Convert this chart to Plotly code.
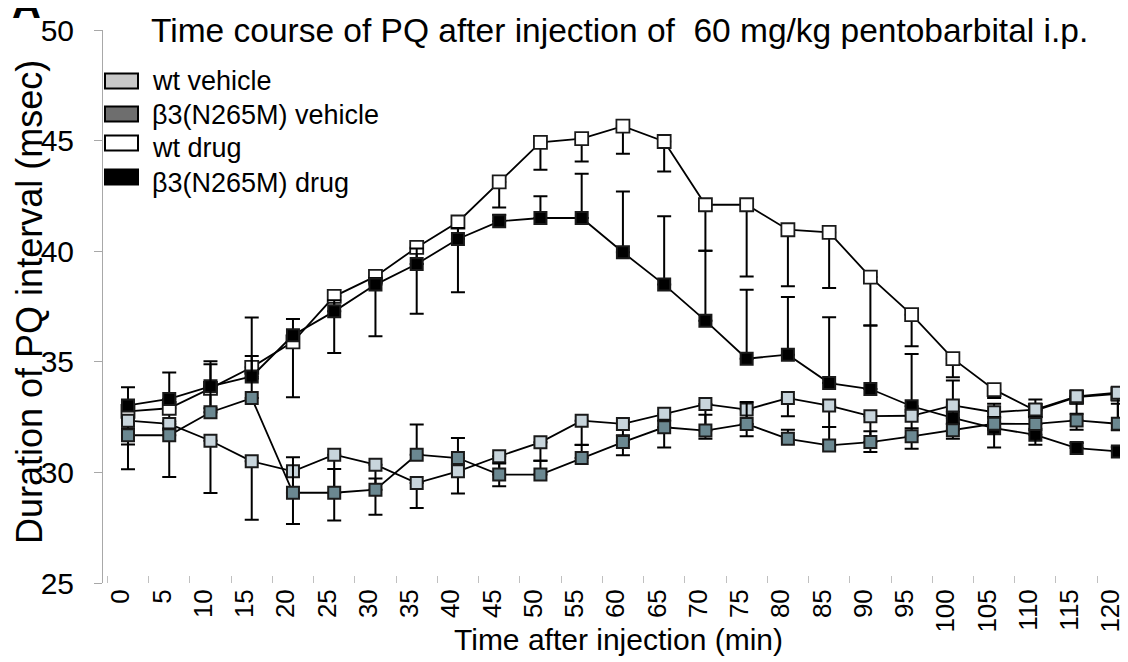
import plotly.graph_objects as go

time = list(range(0, 125, 5))
tick_text = [str(t) for t in time]

series_names = ["wt vehicle", "β3(N265M) vehicle", "wt drug", "β3(N265M) drug"]

wt_vehicle = [32.34, 32.19, 31.43, 30.5, 30.05, 30.8, 30.35, 29.52, 30.05, 30.73, 31.36, 32.34, 32.19,
              32.65, 33.09, 32.84, 33.36, 33.02, 32.54, 32.56, 33.03, 32.72, 32.84, 33.44, 33.6]
wt_vehicle_err = [2.2, 2.4, 2.36, 2.64, 2.38, 2.98, 2.26, 1.13, 1.0, 1.36, 0.83, 1.1, 1.42,
                  1.52, 1.57, 1.21, 0.82, 0.97, 1.62, 1.49, 1.51, 1.59, 1.59, 1.51, 1.7]

mut_vehicle = [31.68, 31.68, 32.72, 33.36, 29.08, 29.08, 29.22, 30.8, 30.65, 29.9, 29.9, 30.65, 31.37,
               32.04, 31.89, 32.19, 31.52, 31.22, 31.37, 31.63, 31.9, 32.2, 32.19, 32.35, 32.2]
mut_vehicle_err = [0.3, 0.3, 2.3, 1.9, 1.6, 1.07, 0.5, 1.36, 0.9, 0.5, 0.63, 0.6, 0.31,
                   0.3, 0.72, 0.99, 0.41, 0.83, 0.49, 0.37, 0.3, 0.3, 0.3, 0.3, 0.9]

wt_drug = [32.76, 32.9, 33.8, 34.75, 35.9, 37.96, 38.86, 40.17, 41.32, 43.13, 44.92, 45.09, 45.65,
           44.96, 42.1, 42.1, 40.97, 40.85, 38.83, 37.13, 35.14, 33.74, 32.8, 33.4, 33.55]
wt_drug_err = [1.5, 0.6, 0.9, 0.5, 2.5, 2.56, 2.7, 3.0, 3.18, 1.15, 1.24, 1.03, 1.25,
               1.36, 2.08, 3.24, 2.56, 2.51, 2.19, 1.43, 0.84, 0.38, 0.3, 0.3, 0.3]

mut_drug = [33.03, 33.32, 33.89, 34.34, 36.2, 37.28, 38.49, 39.42, 40.55, 41.35, 41.5, 41.5, 39.95,
            38.49, 36.86, 35.14, 35.32, 34.04, 33.77, 32.99, 32.46, 32.0, 31.7, 31.1, 30.95]
mut_drug_err = [0.82, 1.2, 1.0, 2.66, 0.73, 0.5, 0.3, 0.7, 0.5, 0.3, 0.98, 2.0, 2.75,
                3.09, 3.16, 3.12, 2.61, 2.97, 2.87, 2.36, 1.7, 1.1, 1.6, 0.23, 0.2]

FONT = "Liberation Sans, Arial, sans-serif"
W, H = 1128, 662
PL, PR, PT, PB = 95, 1128, 22, 575


def px(x):
    return (x - PL) / (PR - PL)


def py(y):
    return (PB - y) / (PB - PT)


def make_trace(y, err, plus, fill, size=12, lw=2):
    zeros = [0] * len(err)
    return go.Scatter(
        x=time, y=y, mode="lines+markers",
        line=dict(color="black", width=1.8),
        marker=dict(symbol="square", size=size, color=fill, line=dict(color="#1a1a1a", width=lw)),
        error_y=dict(type="data", symmetric=False,
                     array=err if plus else zeros,
                     arrayminus=zeros if plus else err,
                     color="black", thickness=2, width=7),
        showlegend=False,
    )


fig = go.Figure()
# draw order: drugs first, vehicles on top
fig.add_trace(make_trace(wt_drug, wt_drug_err, False, "white", size=13, lw=1.8))
fig.add_trace(make_trace(mut_drug, mut_drug_err, True, "black"))
fig.add_trace(make_trace(wt_vehicle, wt_vehicle_err, False, "#c8d5dc"))
fig.add_trace(make_trace(mut_vehicle, mut_vehicle_err, True, "#6b8891"))

shapes = []
annotations = []

# custom legend
swatch_fill = ["#c8c8c8", "#6e6e6e", "white", "black"]
swatch_y = [73, 106, 135, 169]
text_y = [73, 107, 140, 175]
for name, fill, sy, ty in zip(series_names, swatch_fill, swatch_y, text_y):
    shapes.append(dict(type="rect", xref="paper", yref="paper",
                       x0=px(97), x1=px(130), y0=py(sy + 7.5), y1=py(sy - 7.5),
                       fillcolor=fill, line=dict(color="black", width=2)))
    annotations.append(dict(text=name, xref="paper", yref="paper", x=px(142), y=py(ty),
                            xanchor="left", yanchor="middle", showarrow=False,
                            font=dict(family=FONT, size=27, color="black")))

# title
annotations.append(dict(text="Time course of PQ after injection of  60 mg/kg pentobarbital i.p.",
                        xref="paper", yref="paper", x=px(611), y=py(22), xanchor="center",
                        yanchor="middle", showarrow=False,
                        font=dict(family=FONT, size=33.5, color="black")))
# panel letter
annotations.append(dict(text="<b>A</b>", xref="paper", yref="paper", x=px(18), y=py(20),
                        xanchor="center", yanchor="bottom", showarrow=False,
                        font=dict(family=FONT, size=40, color="black")))
# y title
annotations.append(dict(text="Duration of PQ interval (msec)", xref="paper", yref="paper",
                        x=px(21), y=py(294), xanchor="center", yanchor="middle", textangle=-90,
                        showarrow=False, font=dict(family=FONT, size=36, color="black")))
# x title
annotations.append(dict(text="Time after injection (min)", xref="paper", yref="paper",
                        x=px(610), y=py(631), xanchor="center", yanchor="middle",
                        showarrow=False, font=dict(family=FONT, size=30, color="black")))

fig.update_layout(
    width=W, height=H,
    margin=dict(l=PL, r=W - PR, t=PT, b=H - PB, pad=0),
    paper_bgcolor="white", plot_bgcolor="white",
    shapes=shapes, annotations=annotations,
    xaxis=dict(range=[-3.03, 122.2], tickvals=time, ticktext=tick_text, tickangle=-90,
               showgrid=False, zeroline=False, showline=False, ticks="",
               ticklabelshift=-7,
               tickfont=dict(family=FONT, size=26, color="black"),
               minor=dict(tick0=2.5, dtick=5, ticks="inside", ticklen=7, tickcolor="#c0c0c0",
                          tickwidth=1, showgrid=False)),
    yaxis=dict(range=[25, 50], dtick=5, showgrid=False, zeroline=False,
               showline=True, linecolor="#a8a8a8", linewidth=1,
               ticks="outside", ticklen=8, tickcolor="#a8a8a8",
               ticklabelstandoff=14,
               tickfont=dict(family=FONT, size=30, color="black")),
)

fig.write_html("out.html")
